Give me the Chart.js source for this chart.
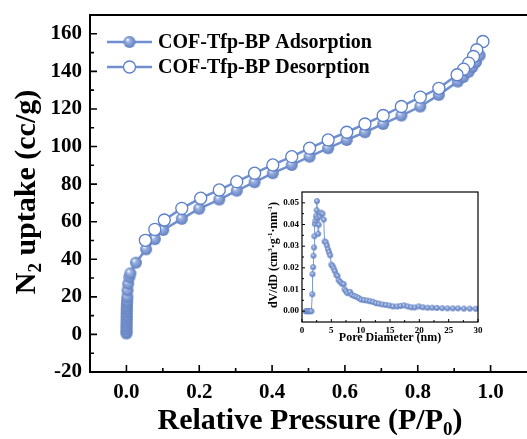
<!DOCTYPE html>
<html>
<head>
<meta charset="utf-8">
<script src="https://cdn.jsdelivr.net/npm/chart.js@4.4.1/dist/chart.umd.min.js"></script>
<style>
  html, body { margin: 0; padding: 0; background: #fff; overflow: hidden; }
  #wrap { position: relative; width: 527px; height: 439px; overflow: hidden; }
  #main { position: absolute; left: 0; top: 0; }
  #inset { position: absolute; left: 262px; top: 184px; }
</style>
</head>
<body>
<div id="wrap">
  <canvas id="main" width="527" height="439"></canvas>
  <canvas id="inset" width="224" height="164"></canvas>
</div>
<script>
// ==================== DATA ====================
// N2 isotherm, adsorption branch (P/P0, cc/g)
const ADS_P = [0.0001, 0.0002, 0.0003, 0.0004, 0.0005, 0.0006, 0.0007, 0.0008, 0.0009, 0.001,
  0.0012, 0.0015, 0.002, 0.0025, 0.003, 0.005, 0.008, 0.011, 0.026, 0.054, 0.078, 0.101,
  0.152, 0.2, 0.255, 0.303, 0.352, 0.402, 0.454, 0.503, 0.554, 0.605, 0.655, 0.705, 0.755,
  0.807, 0.858, 0.91, 0.925, 0.94, 0.95, 0.96, 0.97, 0.979];
const ADS_V = [0.5, 1.5, 3, 4.5, 6, 7.5, 9, 10.5, 12, 13.5,
  15, 16.5, 18, 20, 23.5, 27, 30.5, 32.5, 38.2, 45.3, 50.7, 55.6,
  61.5, 66.9, 71.8, 76.5, 81, 85.8, 90.2, 94.6, 99.1, 103.5, 107.6, 112, 116.5,
  121.3, 127.5, 134.6, 137, 139.8, 142.3, 145, 148.5, 155.9];

// desorption branch
const DES_P = [0.979, 0.962, 0.953, 0.94, 0.926, 0.908, 0.858, 0.807, 0.755, 0.705, 0.655,
  0.605, 0.554, 0.503, 0.454, 0.402, 0.352, 0.303, 0.255, 0.204, 0.152, 0.104, 0.078, 0.052];
const DES_V = [155.9, 151.5, 147.9, 144.4, 141.2, 138.2, 131, 126.3, 121.3, 116.5, 112,
  107.6, 103.5, 99.1, 94.6, 90.2, 85.8, 81.3, 76.9, 72.5, 67.1, 60.9, 55.9, 50.1];

// pore size distribution (nm, cm3 g-1 nm-1)
const PSD_D = [0.6, 0.8, 1.0, 1.2, 1.4, 1.6, 1.75, 1.8, 1.9, 1.95, 2.05, 2.1, 2.2, 2.3, 2.4,
  2.5, 2.55, 2.65, 2.75, 2.85, 3.0, 3.2, 3.5, 3.7, 3.85, 4.05, 4.25, 4.45, 4.6, 4.8, 5.0,
  5.2, 5.4, 5.6, 5.85, 6.05, 6.25, 6.5, 6.8, 7.1, 7.25, 7.5, 7.75, 8.2, 8.5, 8.9, 9.3, 9.7,
  10.1, 10.6, 11.1, 11.6, 12.1, 12.6, 13.1, 13.7, 14.3, 14.9, 15.5, 16.2, 16.8, 17.4, 18.0,
  18.6, 19.2, 19.9, 20.6, 21.4, 22.2, 23.0, 23.9, 24.8, 25.7, 26.6, 27.6, 28.6, 29.6];
const PSD_V = [0, 0, 0, 0, 0, 0, 0.0078, 0.0171, 0.0203, 0.0256, 0.0294, 0.0346, 0.0403, 0.0418, 0.0439,
  0.0466, 0.0508, 0.043, 0.0357, 0.0399, 0.0438, 0.0455, 0.045, 0.0423, 0.0322, 0.0318, 0.0303, 0.0285, 0.0272, 0.0258, 0.0215,
  0.0208, 0.0197, 0.0185, 0.0168, 0.0163, 0.0143, 0.0135, 0.0127, 0.0125, 0.0101, 0.0092, 0.0083, 0.0089, 0.0075, 0.007, 0.0066, 0.006,
  0.0053, 0.0051, 0.0049, 0.0046, 0.0043, 0.0037, 0.0035, 0.0031, 0.0029, 0.0026, 0.0022, 0.0022, 0.0024, 0.0027, 0.0022,
  0.0018, 0.0017, 0.0022, 0.0018, 0.0016, 0.0016, 0.0015, 0.0014, 0.0013, 0.0013, 0.0013, 0.0012, 0.0012, 0.0011];

const X_TICKS = [0, 0.2, 0.4, 0.6, 0.8, 1.0];
const Y_TICKS = [-20, 0, 20, 40, 60, 80, 100, 120, 140, 160];
const PSD_X_TICKS = [0, 5, 10, 15, 20, 25, 30];
const PSD_Y_TICKS = [0, 0.01, 0.02, 0.03, 0.04, 0.05];

const SERIES_NAMES = ['COF-Tfp-BP Adsorption', 'COF-Tfp-BP Desorption'];

// ==================== STYLE ====================
const FONT = '"Liberation Serif", "Times New Roman", serif';
const LINE_BLUE = '#6f8fd0';
const EDGE_BLUE = '#5b7fc8';

function ball(r, edge) {
  const s = Math.ceil(r * 2 + 2);
  const c = document.createElement('canvas');
  c.width = c.height = s;
  const g = c.getContext('2d');
  const m = s / 2;
  const grad = g.createRadialGradient(m - r * 0.35, m - r * 0.4, r * 0.08, m, m, r);
  grad.addColorStop(0, '#f2f5fc');
  grad.addColorStop(0.3, '#9ab1e0');
  grad.addColorStop(1, '#5f7ec0');
  g.fillStyle = grad;
  g.beginPath();
  g.arc(m, m, r, 0, Math.PI * 2);
  g.fill();
  if (edge) {
    g.strokeStyle = edge;
    g.lineWidth = 0.8;
    g.stroke();
  }
  return c;
}

const bigBall = ball(6);
const smallBall = ball(2.6, '#6a89c7');

function pairs(xs, ys) {
  return xs.map((x, i) => ({ x: x, y: ys[i] }));
}

// text with sub/superscript pieces, centred on (x, y)
function drawRich(ctx, parts, x, y, size, angle) {
  const small = Math.round(size * 0.62);
  ctx.save();
  ctx.translate(x, y);
  ctx.rotate(angle || 0);
  let total = 0;
  parts.forEach(p => {
    ctx.font = 'bold ' + (p.s ? small : size) + 'px ' + FONT;
    p.w = ctx.measureText(p.t).width;
    total += p.w;
  });
  let cx = -total / 2;
  ctx.textAlign = 'left';
  ctx.textBaseline = 'middle';
  ctx.fillStyle = '#000';
  parts.forEach(p => {
    ctx.font = 'bold ' + (p.s ? small : size) + 'px ' + FONT;
    const dy = p.s === 'sub' ? size * 0.3 : p.s === 'sup' ? -size * 0.3 : 0;
    ctx.fillText(p.t, cx, dy);
    cx += p.w;
  });
  ctx.restore();
}

function drawTicks(ctx, chart, xMajor, xMinor, yMajor, yMinor, big, small) {
  const a = chart.chartArea;
  const sx = chart.scales.x, sy = chart.scales.y;
  ctx.beginPath();
  xMajor.forEach(v => { const px = sx.getPixelForValue(v); ctx.moveTo(px, a.bottom); ctx.lineTo(px, a.bottom - big); });
  xMinor.forEach(v => { const px = sx.getPixelForValue(v); ctx.moveTo(px, a.bottom); ctx.lineTo(px, a.bottom - small); });
  yMajor.forEach(v => { const py = sy.getPixelForValue(v); ctx.moveTo(a.left, py); ctx.lineTo(a.left + big, py); });
  yMinor.forEach(v => { const py = sy.getPixelForValue(v); ctx.moveTo(a.left, py); ctx.lineTo(a.left + small, py); });
  ctx.stroke();
}

// axes keep no extra room for overhanging end labels
function noOverhang(s) {
  s.paddingLeft = 0;
  s.paddingRight = 0;
  s.paddingTop = 0;
  s.paddingBottom = 0;
}

// ==================== MAIN ISOTHERM ====================
const mainDecor = {
  id: 'mainDecor',
  afterDraw(chart) {
    const ctx = chart.ctx;
    const a = chart.chartArea;
    ctx.save();
    // plot box is open on the right: nothing is drawn along that edge
    ctx.fillStyle = '#fff';
    ctx.fillRect(a.right - 6, a.top + 2, 10, a.bottom - a.top - 4);
    ctx.strokeStyle = '#000';
    ctx.lineWidth = 2;
    ctx.beginPath();
    ctx.moveTo(a.right + 4, a.top);
    ctx.lineTo(a.left, a.top);
    ctx.lineTo(a.left, a.bottom);
    ctx.lineTo(a.right + 4, a.bottom);
    ctx.stroke();
    ctx.lineWidth = 1.6;
    drawTicks(ctx, chart, X_TICKS, [0.1, 0.3, 0.5, 0.7, 0.9], Y_TICKS,
      [-10, 10, 30, 50, 70, 90, 110, 130, 150, 170], 7, 4);

    drawRich(ctx, [{ t: 'Relative Pressure (P/P' }, { t: '0', s: 'sub' }, { t: ')' }], 310, 421, 30);
    drawRich(ctx, [{ t: 'N' }, { t: '2', s: 'sub' }, { t: ' uptake (cc/g)' }], 27, 192, 30, -Math.PI / 2);

    // legend
    const rows = [42, 67];
    rows.forEach((y, i) => {
      ctx.strokeStyle = LINE_BLUE;
      ctx.lineWidth = 2.5;
      ctx.beginPath();
      ctx.moveTo(107, y);
      ctx.lineTo(152, y);
      ctx.stroke();
      if (i === 0) {
        ctx.drawImage(bigBall, 129.5 - bigBall.width / 2, y - bigBall.height / 2);
      } else {
        ctx.beginPath();
        ctx.arc(129.5, y, 6, 0, Math.PI * 2);
        ctx.fillStyle = '#fff';
        ctx.fill();
        ctx.strokeStyle = EDGE_BLUE;
        ctx.lineWidth = 1.3;
        ctx.stroke();
      }
      ctx.fillStyle = '#000';
      ctx.font = 'bold 20px ' + FONT;
      ctx.textAlign = 'left';
      ctx.textBaseline = 'middle';
      ctx.fillText(SERIES_NAMES[i], 158, y + 1);
    });
    ctx.restore();
  }
};

new Chart(document.getElementById('main'), {
  type: 'scatter',
  data: {
    datasets: [
      {
        label: SERIES_NAMES[1],
        data: pairs(DES_P, DES_V),
        showLine: true,
        borderColor: LINE_BLUE,
        borderWidth: 2.5,
        pointStyle: 'circle',
        pointRadius: 6,
        pointBackgroundColor: '#fff',
        pointBorderColor: EDGE_BLUE,
        pointBorderWidth: 1.3,
        order: 0
      },
      {
        label: SERIES_NAMES[0],
        data: pairs(ADS_P, ADS_V),
        showLine: true,
        borderColor: LINE_BLUE,
        borderWidth: 2.5,
        pointStyle: bigBall,
        pointRadius: 6,
        order: 1
      }
    ]
  },
  options: {
    responsive: false,
    animation: false,
    devicePixelRatio: 1,
    layout: { autoPadding: false, padding: { top: 15, right: 0, left: 0, bottom: 0 } },
    plugins: { legend: { display: false }, tooltip: { enabled: false } },
    scales: {
      x: {
        type: 'linear',
        min: -0.1,
        max: 1.1,
        afterBuildTicks: s => { s.ticks = X_TICKS.map(v => ({ value: v })); },
        afterFit: s => { s.height = 67; noOverhang(s); },
        grid: { display: false, drawTicks: false },
        border: { display: false },
        ticks: {
          color: '#000', padding: 8, autoSkip: false, maxRotation: 0,
          font: { family: FONT, size: 21, weight: 'bold' },
          callback: v => v.toFixed(1)
        }
      },
      y: {
        type: 'linear',
        min: -20,
        max: 170,
        afterBuildTicks: s => { s.ticks = Y_TICKS.map(v => ({ value: v })); },
        afterFit: s => { s.width = 90; noOverhang(s); },
        grid: { display: false, drawTicks: false },
        border: { display: false },
        ticks: {
          color: '#000', padding: 8, autoSkip: false,
          font: { family: FONT, size: 21, weight: 'bold' }
        }
      }
    }
  },
  plugins: [mainDecor]
});

// ==================== PORE SIZE INSET ====================
const insetDecor = {
  id: 'insetDecor',
  afterDraw(chart) {
    const ctx = chart.ctx;
    const a = chart.chartArea;
    ctx.save();
    ctx.strokeStyle = '#000';
    ctx.lineWidth = 1.2;
    ctx.strokeRect(a.left, a.top, a.right - a.left, a.bottom - a.top);
    ctx.lineWidth = 1;
    drawTicks(ctx, chart, PSD_X_TICKS, [2.5, 7.5, 12.5, 17.5, 22.5, 27.5], PSD_Y_TICKS,
      [0.005, 0.015, 0.025, 0.035, 0.045], 3, 2);
    drawRich(ctx, [{ t: 'Pore Diameter (nm)' }], 128, 154, 12);
    drawRich(ctx, [
      { t: 'dV/dD (cm' }, { t: '3', s: 'sup' }, { t: '\u00b7g' }, { t: '-1', s: 'sup' },
      { t: '\u00b7nm' }, { t: '-1', s: 'sup' }, { t: ')' }
    ], 12, 71, 12, -Math.PI / 2);
    ctx.restore();
  }
};

new Chart(document.getElementById('inset'), {
  type: 'scatter',
  data: {
    datasets: [{
      data: pairs(PSD_D, PSD_V),
      showLine: true,
      borderColor: '#7a97d0',
      borderWidth: 1,
      pointStyle: smallBall,
      pointRadius: 2.6
    }]
  },
  options: {
    responsive: false,
    animation: false,
    devicePixelRatio: 1,
    layout: { autoPadding: false, padding: { top: 8, right: 8, left: 0, bottom: 0 } },
    plugins: { legend: { display: false }, tooltip: { enabled: false } },
    scales: {
      x: {
        type: 'linear',
        min: 0,
        max: 30,
        afterBuildTicks: s => { s.ticks = PSD_X_TICKS.map(v => ({ value: v })); },
        afterFit: s => { s.height = 26; noOverhang(s); },
        grid: { display: false, drawTicks: false },
        border: { display: false },
        ticks: {
          color: '#000', padding: 3, autoSkip: false, maxRotation: 0,
          font: { family: FONT, size: 9, weight: 'bold' }
        }
      },
      y: {
        type: 'linear',
        min: -0.005,
        max: 0.055,
        afterBuildTicks: s => { s.ticks = PSD_Y_TICKS.map(v => ({ value: v })); },
        afterFit: s => { s.width = 40; noOverhang(s); },
        grid: { display: false, drawTicks: false },
        border: { display: false },
        ticks: {
          color: '#000', padding: 3, autoSkip: false,
          font: { family: FONT, size: 9, weight: 'bold' },
          callback: v => v.toFixed(2)
        }
      }
    }
  },
  plugins: [insetDecor]
});
</script>
</body>
</html>
